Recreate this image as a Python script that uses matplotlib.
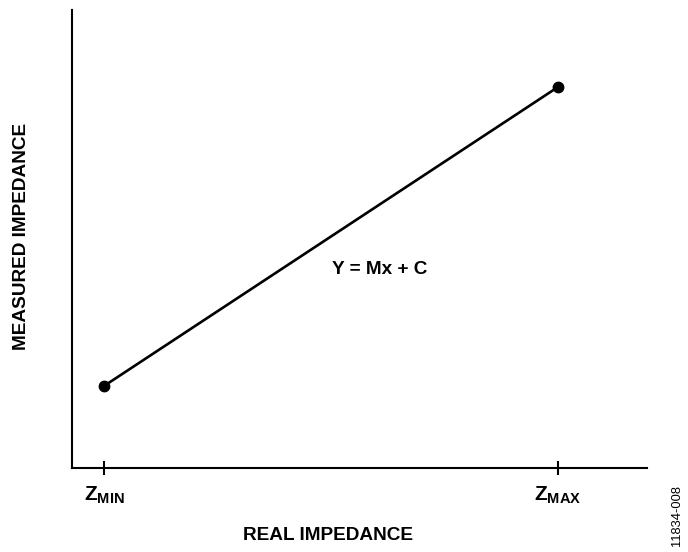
import matplotlib
matplotlib.use('Agg')
import matplotlib.pyplot as plt

plt.rcParams['font.family'] = ['Liberation Sans', 'DejaVu Sans']
plt.rcParams['mathtext.fontset'] = 'custom'
plt.rcParams['mathtext.bf'] = 'Liberation Sans:bold'
plt.rcParams['mathtext.rm'] = 'Liberation Sans:bold'

# calibration points: real impedance (normalised) vs measured impedance
real_z = [0.0, 1.0]
measured_z = [0.0, 1.0]
tick_labels = [r'$\mathbf{Z_{MIN}}$', r'$\mathbf{Z_{MAX}}$']

fig = plt.figure(figsize=(6.88, 5.52), dpi=100)
W, H = 688, 552
ax = fig.add_axes([72 / W, (H - 468) / H, (647 - 72) / W, (468 - 10) / H])

ax.plot(real_z, measured_z, color='black', lw=1.9, marker='o', ms=7.5)

ax.set_xlim(-(104 - 72) / 454, 1 + (647 - 558) / 454)
ax.set_ylim(-(468 - 386) / 299, 1 + (87 - 10) / 299)

ax.spines['top'].set_visible(False)
ax.spines['right'].set_visible(False)
for s in ('left', 'bottom'):
    ax.spines[s].set_linewidth(1.5)

ax.set_xticks(real_z)
ax.set_xticklabels(tick_labels, fontsize=15)
ax.tick_params(axis='x', direction='inout', length=9.5, width=1.5, pad=7)
ax.set_yticks([])

ax.text(0.607, 0.39, 'Y = Mx + C', fontsize=13.7, fontweight='bold', ha='center', va='center')

fig.text(328 / W, 1 - 535 / H, 'REAL IMPEDANCE', fontsize=13.7, fontweight='bold',
         ha='center', va='center')
fig.text(22 / W, 1 - 236 / H, 'MEASURED IMPEDANCE', fontsize=13.7, fontweight='bold',
         ha='center', va='center', rotation=90)
fig.text(677 / W, 1 - 515 / H, '11834-008', fontsize=9.3, ha='center', va='center',
         rotation=90)

fig.savefig('out.png', dpi=100)
